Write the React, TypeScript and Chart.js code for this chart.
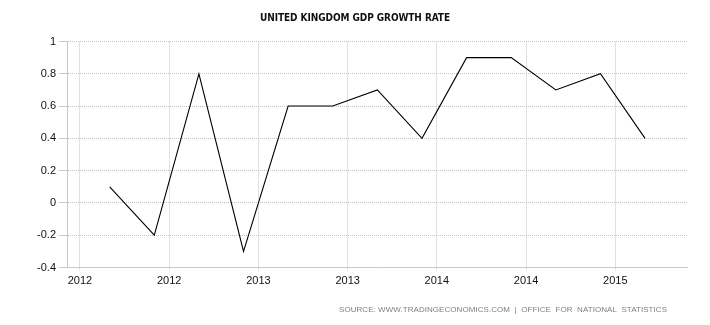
import React, { useEffect, useRef } from "react";
import { Chart, registerables } from "chart.js";

Chart.register(...registerables);

const TITLE = "UNITED KINGDOM GDP GROWTH RATE";
const SOURCE = "SOURCE: WWW.TRADINGECONOMICS.COM  |  OFFICE  FOR  NATIONAL  STATISTICS";

// months since Jan 2012 (quarterly observations, Q1 2012 .. Q1 2015)
const monthIndex = [2, 5, 8, 11, 14, 17, 20, 23, 26, 29, 32, 35, 38];
const growthRate = [0.1, -0.2, 0.8, -0.3, 0.6, 0.6, 0.7, 0.4, 0.9, 0.9, 0.7, 0.8, 0.4];

const xTickValues = [0, 6, 12, 18, 24, 30, 36];
const xTickLabels = ["2012", "2012", "2013", "2013", "2014", "2014", "2015"];

const yMin = -0.4;
const yMax = 1;
const yStep = 0.2;

const textPlugin = {
  id: "textPlugin",
  afterDraw(chart: any) {
    const ctx = chart.ctx;
    ctx.save();
    ctx.fillStyle = "#111";
    ctx.font = "bold 10px 'DejaVu Sans Condensed', 'Liberation Sans Narrow', 'Liberation Sans', Arial, sans-serif";
    ctx.textAlign = "left";
    ctx.textBaseline = "middle";
    const tTarget = 190;
    const tw = ctx.measureText(TITLE).width;
    const tls = (tTarget - tw) / TITLE.length;
    (ctx as any).letterSpacing = tls + "px";
    ctx.fillText(TITLE, 260, 18);

    (ctx as any).letterSpacing = "0px";
    ctx.font = "8px 'Liberation Sans', Arial, sans-serif";
    ctx.fillStyle = "#7a7f88";
    const targetW = 328;
    const w = ctx.measureText(SOURCE).width;
    const ls = (targetW - w) / (SOURCE.length - 1);
    (ctx as any).letterSpacing = ls + "px";
    ctx.fillText(SOURCE, 667 - targetW, 310);
    ctx.restore();
  },
};

export default function App() {
  const ref = useRef<HTMLCanvasElement>(null);
  useEffect(() => {
    const chart = new Chart(ref.current as HTMLCanvasElement, {
      type: "line",
      data: {
        datasets: [
          {
            data: monthIndex.map((m, i) => ({ x: m, y: growthRate[i] })),
            borderColor: "#000",
            borderWidth: 1.1,
            pointRadius: 0,
            tension: 0,
            fill: false,
          },
        ],
      },
      options: {
        animation: false,
        responsive: false,
        layout: { padding: { left: 0, top: 41.5, right: 23, bottom: 27.5 } },
        plugins: {
          legend: { display: false },
          title: { display: false },
          tooltip: { enabled: false },
        },
        scales: {
          x: {
            type: "linear",
            min: -0.87,
            max: 40.82,
            afterBuildTicks: (scale: any) => {
              scale.ticks = xTickValues.map((v) => ({ value: v }));
            },
            afterFit: (scale: any) => {
              scale.height = 30;
            },
            ticks: {
              autoSkip: false,
              maxRotation: 0,
              padding: 4,
              color: "#111",
              font: { family: "'Liberation Sans', Arial, sans-serif", size: 11 },
              callback: (v: any) => {
                const i = xTickValues.indexOf(Number(v));
                return i >= 0 ? xTickLabels[i] : "";
              },
            },
            grid: {
              color: "#c4c4c4",
              lineWidth: 1,
              tickLength: 3,
              tickColor: "#c4c4c4",
              tickBorderDash: [1, 1],
            },
            border: { display: true, color: "#c8c8c8", width: 1, dash: [1, 1] },
          },
          y: {
            min: yMin,
            max: yMax,
            afterFit: (scale: any) => {
              scale.width = 67;
            },
            ticks: {
              stepSize: yStep,
              padding: 3,
              color: "#111",
              font: { family: "'Liberation Sans', Arial, sans-serif", size: 11 },
              callback: (v: any) => String(Math.round(Number(v) * 10) / 10),
            },
            grid: {
              color: "#c4c4c4",
              lineWidth: 1,
              tickLength: 8,
              tickColor: "#c8c8c8",
              tickBorderDash: [],
            },
            border: { display: true, color: "#c8c8c8", width: 1, dash: [1, 1] },
          },
        },
      },
      plugins: [textPlugin],
    });
    return () => chart.destroy();
  }, []);
  return (
    <div style={{ position: "fixed", left: 0, top: 0, width: 710, height: 325, background: "#fff" }}>
      <canvas ref={ref} width={710} height={325} />
    </div>
  );
}
